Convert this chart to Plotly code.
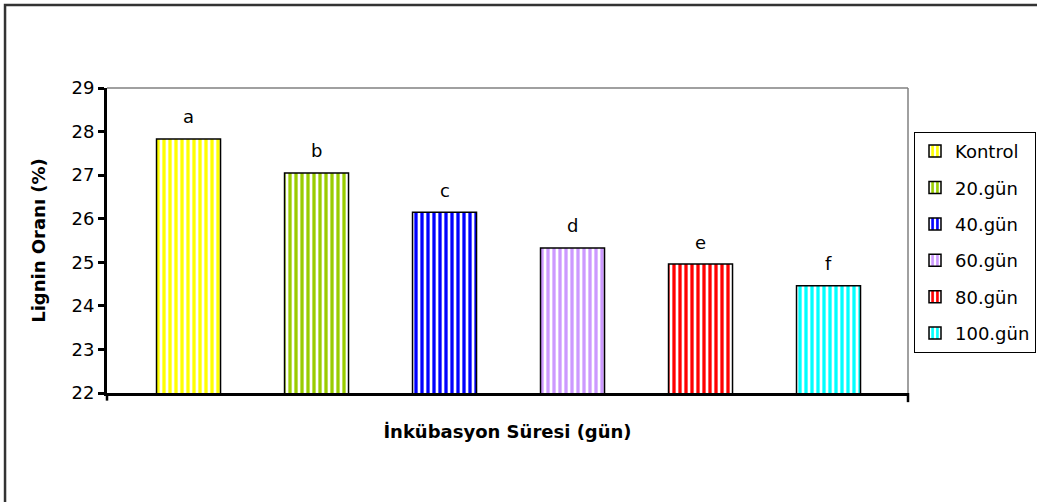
import plotly.graph_objects as go

# Lignin ratio by incubation period
categories = ["Kontrol", "20.gün", "40.gün", "60.gün", "80.gün", "100.gün"]
lignin = [27.83, 27.05, 26.15, 25.33, 24.96, 24.46]
letters = ["a", "b", "c", "d", "e", "f"]
colors = ["#FFFF00", "#99CC00", "#0000FF", "#CC99FF", "#FF0000", "#00FFFF"]
y_ticks = [22, 23, 24, 25, 26, 27, 28, 29]

FONT = "DejaVu Sans"

fig = go.Figure()
for cat, val, col in zip(categories, lignin, colors):
    fig.add_trace(go.Bar(
        x=[cat], y=[val], name=cat, width=0.5, legendgroup=cat,
        marker=dict(
            color="white",
            line=dict(color="black", width=1.5),
            pattern=dict(shape="|", fgcolor=col, bgcolor="white",
                         size=6, solidity=0.55, fillmode="overlay",
                         fgopacity=1),
        ),
        hoverinfo="skip",
    ))

# significance letters above each bar
for cat, val, lab in zip(categories, lignin, letters):
    fig.add_annotation(x=cat, y=val, text=lab, showarrow=False,
                       yshift=22, font=dict(family=FONT, size=18, color="black"))

shapes = [
    # chart frame
    dict(type="rect", xref="paper", yref="paper", x0=-0.1273, x1=1.3,
         y0=-0.4, y1=1.272, line=dict(color="#333333", width=2.5),
         fillcolor="rgba(0,0,0,0)", layer="below"),
    # plot area top and right edges
    dict(type="line", xref="paper", yref="paper", x0=0, x1=1, y0=1, y1=1,
         line=dict(color="#808080", width=1.5)),
    dict(type="line", xref="paper", yref="paper", x0=1, x1=1, y0=0, y1=1,
         line=dict(color="#808080", width=1.5)),
    # category axis end ticks
    dict(type="line", xref="paper", yref="paper", x0=0, x1=0, y0=0, y1=-0.025,
         line=dict(color="black", width=2.5)),
    dict(type="line", xref="paper", yref="paper", x0=1, x1=1, y0=0, y1=-0.03,
         line=dict(color="black", width=2.5)),
]

fig.update_layout(
    width=1037, height=502,
    margin=dict(l=107, r=129, t=88, b=109, autoexpand=False),
    paper_bgcolor="white", plot_bgcolor="white",
    barmode="overlay",
    font=dict(family=FONT, size=18, color="black"),
    shapes=shapes,
    showlegend=True,
    legend=dict(
        x=1.0075, y=0.856, xanchor="left", yanchor="top",
        bgcolor="white", bordercolor="black", borderwidth=1,
        font=dict(family=FONT, size=18, color="black"),
        tracegroupgap=10, itemwidth=30,
    ),
    xaxis=dict(
        categoryorder="array", categoryarray=categories,
        range=[-0.637, 5.621],
        showticklabels=False, ticks="", showgrid=False,
        showline=True, linecolor="black", linewidth=3,
        title=dict(text="<b>İnkübasyon Süresi (gün)</b>",
                   font=dict(family=FONT, size=18), standoff=31),
    ),
    yaxis=dict(
        range=[22, 29], tickvals=y_ticks, showgrid=False, zeroline=False,
        showline=True, linecolor="black", linewidth=3,
        ticks="outside", ticklen=6, tickwidth=2.5, tickcolor="black",
        tickfont=dict(family=FONT, size=18),
        title=dict(text="<b>Lignin Oranı (%)</b>",
                   font=dict(family=FONT, size=18), standoff=22),
    ),
)

fig.write_html("out.html")
